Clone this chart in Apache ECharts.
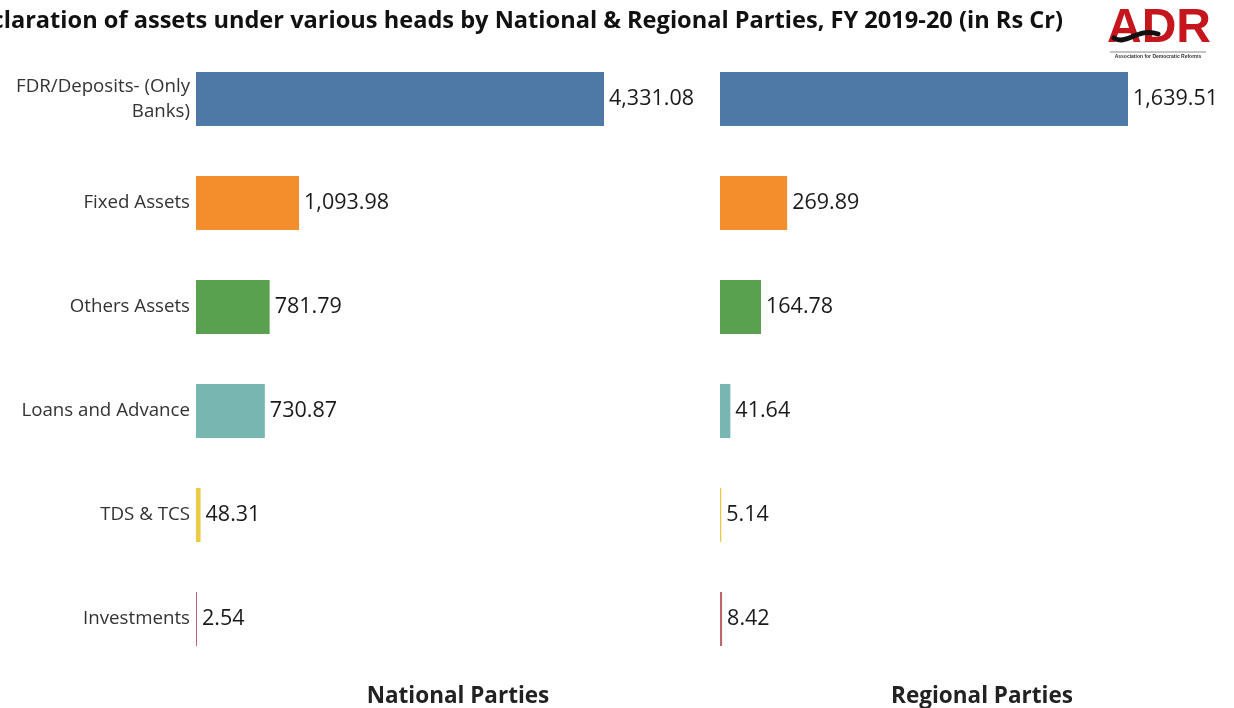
<!DOCTYPE html>
<html>
<head>
<meta charset="utf-8">
<title>Declaration of assets, FY 2019-20</title>
<script src="https://cdn.jsdelivr.net/npm/echarts@6/dist/echarts.min.js"></script>
<style>
  html, body { margin: 0; padding: 0; background: #ffffff; }
  #chart { width: 1234px; height: 708px; }
</style>
</head>
<body>
<div id="chart"></div>
<script>
// Asset heads, top to bottom
const categories = [
  'FDR/Deposits- (Only\nBanks)',
  'Fixed Assets',
  'Others Assets',
  'Loans and Advance',
  'TDS & TCS',
  'Investments'
];

// Declared assets in Rs crore
const nationalValues = [4331.08, 1093.98, 781.79, 730.87, 48.31, 2.54];
const regionalValues = [1639.51, 269.89, 164.78, 41.64, 5.14, 8.42];

// One colour per asset head
const headColors = ['#4e79a7', '#f28e2b', '#59a14f', '#76b7b2', '#edc948', '#c0646c'];

const panelTitles = ['National Parties', 'Regional Parties'];
const chartTitle = 'Declaration of assets under various heads by National & Regional Parties, FY 2019-20 (in Rs Cr)';

const fmt = v => v.toLocaleString('en-US', { minimumFractionDigits: 2, maximumFractionDigits: 2 });

function barData(values) {
  return values.map((v, i) => ({ value: v, itemStyle: { color: headColors[i] } }));
}

function barSeries(values, idx) {
  return {
    type: 'bar',
    xAxisIndex: idx,
    yAxisIndex: idx,
    data: barData(values),
    barWidth: '52%',
    barMinHeight: 1,
    silent: true,
    label: {
      show: true,
      position: 'right',
      distance: 5,
      formatter: p => fmt(p.value),
      fontFamily: 'Open Sans',
      fontSize: 21.5,
      color: '#1a1a1a'
    }
  };
}

const chart = echarts.init(document.getElementById('chart'), null, { renderer: 'canvas' });

const option = {
  backgroundColor: '#ffffff',
  animation: false,
  grid: [
    { left: 196, top: 47, width: 408, height: 624 },
    { left: 720, top: 47, width: 408, height: 624 }
  ],
  xAxis: [
    { type: 'value', gridIndex: 0, min: 0, max: 'dataMax', show: false },
    { type: 'value', gridIndex: 1, min: 0, max: 'dataMax', show: false }
  ],
  yAxis: [
    {
      type: 'category', gridIndex: 0, data: categories, inverse: true,
      axisLine: { show: false }, axisTick: { show: false }, splitLine: { show: false },
      axisLabel: {
        margin: 6, fontFamily: 'Open Sans', fontSize: 18.7, color: '#333',
        align: 'right', lineHeight: 25
      }
    },
    {
      type: 'category', gridIndex: 1, data: categories, inverse: true,
      axisLine: { show: false }, axisTick: { show: false }, splitLine: { show: false },
      axisLabel: { show: false }
    }
  ],
  series: [
    barSeries(nationalValues, 0),
    barSeries(regionalValues, 1)
  ],
  graphic: [
    {
      type: 'text', x: 1063, y: 21,
      style: {
        text: chartTitle, fontFamily: 'Open Sans', fontWeight: 'bold',
        fontSize: 23.6, fill: '#111', align: 'right', verticalAlign: 'middle'
      }
    },
    {
      type: 'text', x: 458, y: 697,
      style: {
        text: panelTitles[0], fontFamily: 'Open Sans', fontWeight: 'bold',
        fontSize: 22.5, fill: '#222', align: 'center', verticalAlign: 'middle'
      }
    },
    {
      type: 'text', x: 982, y: 697,
      style: {
        text: panelTitles[1], fontFamily: 'Open Sans', fontWeight: 'bold',
        fontSize: 22.5, fill: '#222', align: 'center', verticalAlign: 'middle'
      }
    },
    // ADR logo
    {
      type: 'text', x: 1159, y: 29,
      style: {
        text: 'ADR', fontFamily: 'Liberation Sans Narrow, Liberation Sans', fontWeight: 'bold',
        fontSize: 48, fill: '#c4161c', align: 'center', verticalAlign: 'middle'
      }
    },
    {
      type: 'bezierCurve',
      shape: { x1: 1114, y1: 38, cpx1: 1126, cpy1: 46, cpx2: 1138, cpy2: 27, x2: 1158, y2: 34 },
      style: { stroke: '#111', lineWidth: 5, fill: 'none', lineCap: 'round' }
    },
    {
      type: 'line',
      shape: { x1: 1110, y1: 52, x2: 1206, y2: 52 },
      style: { stroke: '#888', lineWidth: 1 }
    },
    {
      type: 'text', x: 1158, y: 57,
      style: {
        text: 'Association for Democratic Reforms', fontFamily: 'Liberation Sans', fontWeight: 'bold',
        fontSize: 5, fill: '#333', align: 'center', verticalAlign: 'middle'
      }
    }
  ]
};

chart.setOption(option);
</script>
</body>
</html>
